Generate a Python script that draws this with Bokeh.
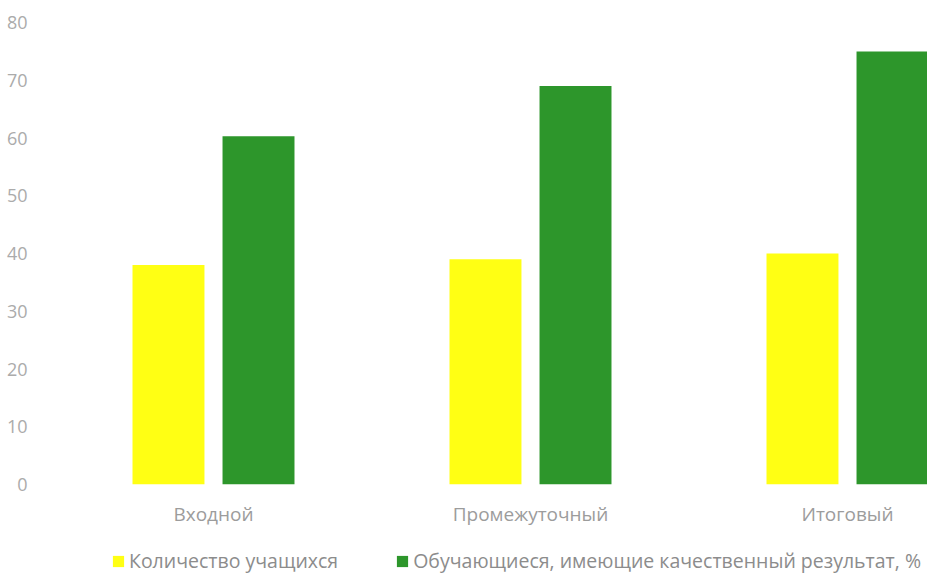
from bokeh.plotting import figure
from bokeh.models import Range1d, FixedTicker, ColumnDataSource, Legend, LegendItem
from bokeh.layouts import column
from bokeh.transform import dodge
from bokeh.embed import file_html
from bokeh.resources import INLINE

categories = ["Входной", "Промежуточный", "Итоговый"]
students = [38, 39, 40]
quality = [60.3, 69, 75]
series_names = ["Количество учащихся", "Обучающиеся, имеющие качественный результат, %"]
y_ticks = [0, 10, 20, 30, 40, 50, 60, 70, 80]

FONT = "Open Sans"
YELLOW = "#FFFF14"
GREEN = "#2D962B"

xs = list(range(len(categories)))
src = ColumnDataSource(dict(x=xs, students=students, quality=quality))

p = figure(width=927, height=540, output_backend="svg", toolbar_location=None,
           x_range=Range1d(-0.5205, 2.2524), y_range=Range1d(0, 80),
           min_border_left=48, min_border_right=0, min_border_top=22, min_border_bottom=56)
p.outline_line_color = None
p.xgrid.visible = False
p.ygrid.visible = False

r1 = p.vbar(x=dodge("x", -0.142, range=p.x_range), top="students", width=0.227,
            source=src, fill_color=YELLOW, line_color=None)
r2 = p.vbar(x=dodge("x", 0.142, range=p.x_range), top="quality", width=0.227,
            source=src, fill_color=GREEN, line_color=None)

# y axis
p.yaxis.ticker = FixedTicker(ticks=y_ticks)
p.yaxis.axis_line_color = None
p.yaxis.major_tick_line_color = None
p.yaxis.minor_tick_line_color = None
p.yaxis.major_label_standoff = 15
p.yaxis.major_label_text_font = FONT
p.yaxis.major_label_text_font_size = "18px"
p.yaxis.major_label_text_color = "#ababab"

# x axis
p.xaxis.ticker = FixedTicker(ticks=xs)
p.xaxis.major_label_overrides = {i: c for i, c in zip(xs, categories)}
p.xaxis.axis_line_color = None
p.xaxis.major_tick_line_color = None
p.xaxis.minor_tick_line_color = None
p.xaxis.major_tick_out = 0
p.xaxis.major_label_standoff = 16
p.xaxis.major_label_text_font = FONT
p.xaxis.major_label_text_font_size = "19px"
p.xaxis.major_label_text_color = "#9c9c9c"

# legend strip below the chart (same series, drawn outside its visible y window)
lg = figure(width=927, height=34, output_backend="svg", toolbar_location=None,
            x_range=p.x_range, y_range=Range1d(1000, 1034),
            x_axis_location=None, y_axis_location=None,
            min_border_left=48, min_border_right=0, min_border_top=0, min_border_bottom=0)
lg.outline_line_color = None
lg.xgrid.visible = False
lg.ygrid.visible = False
d1 = lg.vbar(x=dodge("x", -0.142, range=p.x_range), top="students", width=0.227,
             source=src, fill_color=YELLOW, line_color=None)
d2 = lg.vbar(x=dodge("x", 0.142, range=p.x_range), top="quality", width=0.227,
             source=src, fill_color=GREEN, line_color=None)

legend = Legend(items=[LegendItem(label=series_names[0], renderers=[d1]),
                       LegendItem(label=series_names[1], renderers=[d2])],
                orientation="horizontal", location=(63, 0),
                glyph_width=14, glyph_height=14, label_standoff=4, spacing=57,
                padding=0, margin=0, border_line_color=None, background_fill_alpha=0,
                label_text_font=FONT, label_text_font_size="19.5px", label_text_color="#8c8c8c")
lg.add_layout(legend, "center")

layout = column(p, lg, spacing=0)
open("out.html", "w").write(file_html(layout, INLINE))
